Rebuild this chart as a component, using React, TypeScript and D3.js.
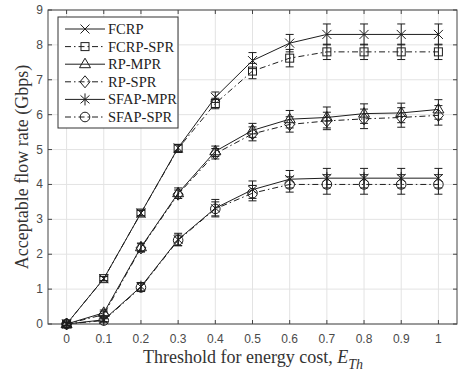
import React from "react";
import * as d3 from "d3";

const thresholds = [0, 0.1, 0.2, 0.3, 0.4, 0.5, 0.6, 0.7, 0.8, 0.9, 1];
const xTicks = [0, 0.1, 0.2, 0.3, 0.4, 0.5, 0.6, 0.7, 0.8, 0.9, 1];
const xTickLabels = ["0", "0.1", "0.2", "0.3", "0.4", "0.5", "0.6", "0.7", "0.8", "0.9", "1"];
const yTicks = [0, 1, 2, 3, 4, 5, 6, 7, 8, 9];

const seriesNames = ["FCRP", "FCRP-SPR", "RP-MPR", "RP-SPR", "SFAP-MPR", "SFAP-SPR"];
const fcrp = [0, 1.3, 3.18, 5.05, 6.5, 7.55, 8.05, 8.3, 8.3, 8.3, 8.3];
const fcrpSpr = [0, 1.3, 3.18, 5.03, 6.32, 7.25, 7.62, 7.8, 7.8, 7.8, 7.8];
const rpMpr = [0, 0.32, 2.2, 3.75, 4.95, 5.55, 5.87, 5.92, 6.03, 6.05, 6.15];
const rpSpr = [0, 0.27, 2.18, 3.72, 4.88, 5.45, 5.72, 5.82, 5.88, 5.92, 5.98];
const sfapMpr = [0, 0.12, 1.07, 2.42, 3.32, 3.85, 4.15, 4.18, 4.18, 4.18, 4.18];
const sfapSpr = [0, 0.1, 1.05, 2.4, 3.3, 3.75, 4.0, 4.0, 4.0, 4.0, 4.0];

const fcrpErr = [0.05, 0.06, 0.08, 0.1, 0.15, 0.23, 0.25, 0.3, 0.3, 0.3, 0.3];
const fcrpSprErr = [0.05, 0.06, 0.08, 0.1, 0.15, 0.22, 0.25, 0.22, 0.22, 0.22, 0.22];
const rpMprErr = [0.05, 0.08, 0.12, 0.15, 0.15, 0.2, 0.25, 0.3, 0.28, 0.28, 0.28];
const rpSprErr = [0.05, 0.08, 0.12, 0.12, 0.15, 0.2, 0.22, 0.25, 0.28, 0.28, 0.28];
const sfapMprErr = [0.05, 0.05, 0.12, 0.18, 0.25, 0.25, 0.25, 0.28, 0.28, 0.28, 0.28];
const sfapSprErr = [0.05, 0.05, 0.12, 0.15, 0.2, 0.22, 0.22, 0.28, 0.28, 0.28, 0.28];

const seriesValues = [fcrp, fcrpSpr, rpMpr, rpSpr, sfapMpr, sfapSpr];
const seriesErrors = [fcrpErr, fcrpSprErr, rpMprErr, rpSprErr, sfapMprErr, sfapSprErr];
const seriesMarkers = ["x", "square", "triangle", "diamond", "star", "circle"];
const seriesDashed = [false, true, false, true, false, true];

const W = 458, H = 377;
const L = 48, R = 457, T = 10, B = 324;
const INK = "#1e1e1e";
const DASH = "6,3,1.5,3";

function Marker({ type, cx, cy }: { type: string; cx: number; cy: number }) {
  const p = { fill: "none", stroke: INK, strokeWidth: 1 };
  const s = 4.5;
  if (type === "x")
    return <path {...p} d={`M${cx - s},${cy - s}L${cx + s},${cy + s}M${cx - s},${cy + s}L${cx + s},${cy - s}`} />;
  if (type === "square") return <rect {...p} x={cx - 4} y={cy - 4} width={8} height={8} />;
  if (type === "triangle")
    return <path {...p} d={`M${cx},${cy - 6}L${cx + 5.5},${cy + 3.5}L${cx - 5.5},${cy + 3.5}Z`} />;
  if (type === "diamond")
    return <path {...p} d={`M${cx},${cy - 6}L${cx + 5},${cy}L${cx},${cy + 6}L${cx - 5},${cy}Z`} />;
  if (type === "star")
    return (
      <path
        {...p}
        d={`M${cx},${cy - 6}L${cx},${cy + 6}M${cx - 4.5},${cy - 4}L${cx + 4.5},${cy + 4}M${cx - 4.5},${cy + 4}L${cx + 4.5},${cy - 4}`}
      />
    );
  return <circle {...p} cx={cx} cy={cy} r={4.8} />;
}

export default function App() {
  const x = d3.scaleLinear().domain([-0.05, 1.05]).range([L, R]);
  const y = d3.scaleLinear().domain([0, 9]).range([B, T]);
  const line = d3
    .line<number>()
    .x((_, i) => x(thresholds[i]))
    .y((d) => y(d));

  const legendRows = seriesNames.map((n, i) => ({ n, i, yy: 29 + i * 17.6 }));

  return (
    <div style={{ position: "fixed", left: 0, top: 0 }}>
      <svg width={W} height={H} style={{ display: "block", background: "#fff" }}>
        <rect x={0} y={0} width={W} height={H} fill="#fff" />
        {xTicks.map((t) => (
          <line key={"gx" + t} x1={x(t)} x2={x(t)} y1={T} y2={B} stroke="#e3e3e3" strokeWidth={1} />
        ))}
        {yTicks.map((t) => (
          <line key={"gy" + t} x1={L} x2={R} y1={y(t)} y2={y(t)} stroke="#e3e3e3" strokeWidth={1} />
        ))}
        <rect x={L} y={T} width={R - L} height={B - T} fill="none" stroke="#444" strokeWidth={1} />
        {xTicks.map((t) => (
          <g key={"tx" + t}>
            <line x1={x(t)} x2={x(t)} y1={B} y2={B - 4} stroke="#444" />
            <line x1={x(t)} x2={x(t)} y1={T} y2={T + 4} stroke="#444" />
          </g>
        ))}
        {yTicks.map((t) => (
          <g key={"ty" + t}>
            <line x1={L} x2={L + 4} y1={y(t)} y2={y(t)} stroke="#444" />
            <line x1={R} x2={R - 4} y1={y(t)} y2={y(t)} stroke="#444" />
          </g>
        ))}
        {xTicks.map((t, i) => (
          <text
            key={"lx" + t}
            x={x(t)}
            y={343}
            textAnchor="middle"
            fontFamily="Liberation Sans, Arial, sans-serif"
            fontSize={12}
            fill="#4a4a4a"
          >
            {xTickLabels[i]}
          </text>
        ))}
        {yTicks.map((t) => (
          <text
            key={"ly" + t}
            x={43}
            y={y(t) + 4}
            textAnchor="end"
            fontFamily="Liberation Sans, Arial, sans-serif"
            fontSize={12}
            fill="#4a4a4a"
          >
            {t}
          </text>
        ))}
        {seriesValues.map((vals, si) => (
          <g key={"s" + si}>
            <path
              d={line(vals) || ""}
              fill="none"
              stroke={INK}
              strokeWidth={1}
              strokeDasharray={seriesDashed[si] ? DASH : undefined}
            />
            {vals.map((v, i) => {
              const e = seriesErrors[si][i];
              const cx = x(thresholds[i]);
              const y1 = y(v - e), y2 = y(v + e);
              return (
                <g key={i}>
                  <path
                    d={`M${cx},${y1}L${cx},${y2}M${cx - 4},${y1}L${cx + 4},${y1}M${cx - 4},${y2}L${cx + 4},${y2}`}
                    stroke={INK}
                    strokeWidth={1}
                    fill="none"
                  />
                  <Marker type={seriesMarkers[si]} cx={cx} cy={y(v)} />
                </g>
              );
            })}
          </g>
        ))}
        <rect x={58} y={17} width={120} height={111} fill="#fff" stroke="#333" strokeWidth={1} />
        {legendRows.map(({ n, i, yy }) => (
          <g key={"lg" + n}>
            <line
              x1={65}
              x2={105}
              y1={yy}
              y2={yy}
              stroke={INK}
              strokeWidth={1}
              strokeDasharray={seriesDashed[i] ? DASH : undefined}
            />
            <Marker type={seriesMarkers[i]} cx={85} cy={yy} />
            <text x={108} y={yy + 5} fontFamily="Liberation Serif, Times New Roman, serif" fontSize={14.5} fill="#222">
              {n}
            </text>
          </g>
        ))}
        <text
          x={253}
          y={363}
          textAnchor="middle"
          fontFamily="Liberation Serif, Times New Roman, serif"
          fontSize={18}
          fill="#333"
        >
          Threshold for energy cost,{" "}
          <tspan fontStyle="italic">E</tspan>
          <tspan fontStyle="italic" fontSize={14} dy={6}>
            Th
          </tspan>
        </text>
        <text
          transform={`translate(28,${(T + B) / 2}) rotate(-90)`}
          textAnchor="middle"
          fontFamily="Liberation Serif, Times New Roman, serif"
          fontSize={18}
          fill="#333"
        >
          Acceptable flow rate (Gbps)
        </text>
      </svg>
    </div>
  );
}
